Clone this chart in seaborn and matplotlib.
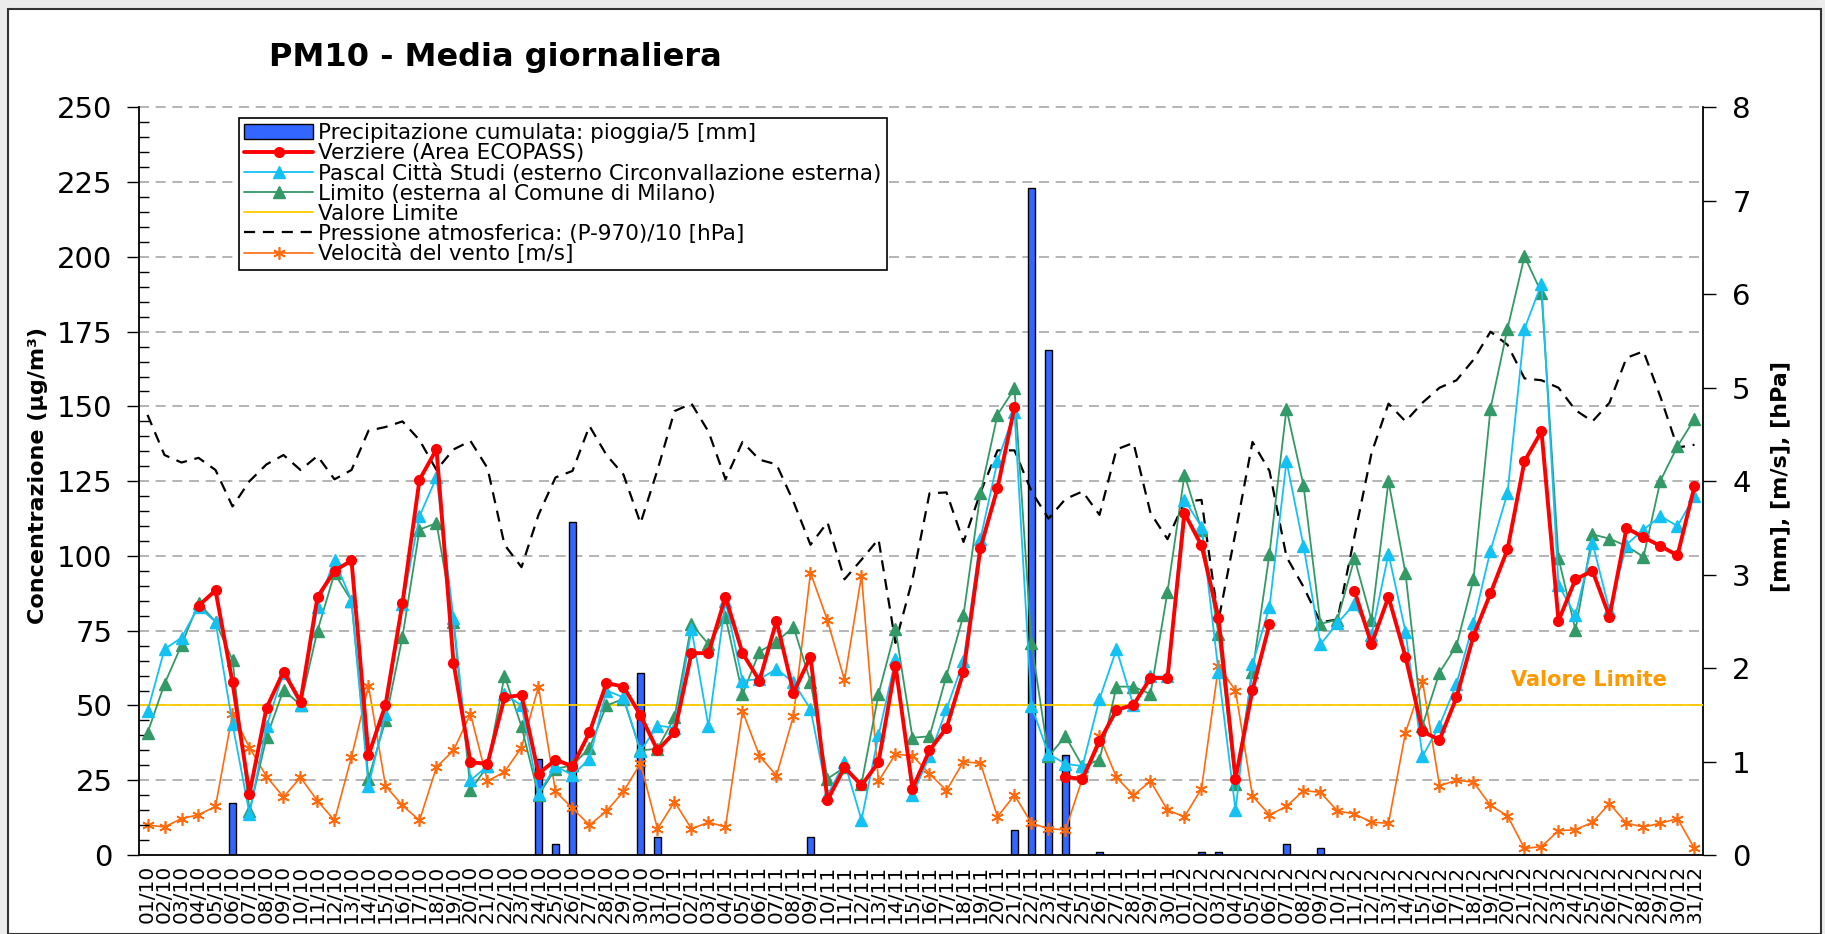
import numpy as np
import pandas as pd
import seaborn as sns
import matplotlib.pyplot as plt
from matplotlib.patches import Rectangle, Patch
from matplotlib.ticker import MultipleLocator, FixedLocator
from matplotlib.transforms import blended_transform_factory

nan = np.nan

# giorni dal 01/10 al 31/12
giorni = pd.date_range('2008-10-01', '2008-12-31').strftime('%d/%m').tolist()

# PM10 [ug/m3]
verziere = [nan, nan, nan, 83.3, 88.5, 57.7, 20.5, 49.2, 61.3, 51.3,
            86.3, 95.0, 98.5, 33.3, 50.2, 84.3, 125.5, 135.7, 64.3, 31.0,
            30.5, 52.7, 53.5, 27.2, 31.8, 29.7, 41.0, 57.5, 56.3, 46.7,
            35.0, 41.0, 67.5, 67.5, 86.3, 67.5, 58.3, 78.3, 54.3, 66.3,
            18.3, 29.3, 23.3, 31.0, 63.3, 22.2, 35.0, 42.5, 61.3, 102.7,
            122.7, 149.7, nan, nan, 26.0, 25.5, 38.0, 48.5, 50.2, 59.2,
            59.2, 114.3, 103.5, 79.3, 25.5, 55.2, 77.2, nan, nan, nan,
            nan, 88.3, 70.5, 86.3, 66.3, 41.3, 38.5, 52.7, 73.3, 87.5,
            102.2, 131.7, 141.7, 78.3, 92.2, 95.0, 79.7, 109.3, 106.3, 103.3,
            100.2, 123.3]
pascal = [48.0, 68.8, 72.7, 83.0, 78.0, 43.8, 13.8, 43.0, 61.0, 50.2,
          83.0, 98.8, 85.0, 23.0, 47.2, 83.8, 113.3, 126.3, 79.2, 25.0,
          29.7, 53.8, 50.0, 20.5, 29.7, 26.7, 32.2, 55.0, 52.7, 34.7,
          43.3, 42.5, 75.5, 43.0, 85.0, 58.3, 58.8, 62.2, 57.7, 48.8,
          20.0, 31.0, 11.7, 40.0, 65.5, 20.0, 33.0, 48.8, 64.8, 105.8,
          131.7, 148.0, 49.7, 33.8, 30.5, 29.7, 52.2, 68.8, 50.0, 59.7,
          59.7, 118.8, 109.7, 61.3, 15.0, 63.8, 83.0, 131.7, 103.3, 70.5,
          77.5, 84.0, 73.5, 100.7, 74.7, 33.0, 43.3, 57.2, 77.7, 101.8,
          121.0, 176.0, 191.0, 90.2, 80.2, 104.3, 81.8, 103.8, 108.8, 113.3,
          110.0, 120.0]
limito = [40.8, 57.2, 70.2, 84.3, 78.0, 65.2, 14.7, 39.3, 55.2, 50.2,
          75.0, 94.2, 85.0, 25.5, 45.0, 73.0, 108.8, 111.0, 78.0, 21.7,
          29.7, 60.0, 43.0, 20.0, 28.8, 30.0, 35.8, 50.0, 52.2, 35.0,
          35.5, 46.0, 77.2, 70.5, 79.7, 53.8, 68.0, 71.3, 76.3, 58.0,
          25.5, 29.3, 23.8, 53.8, 75.5, 39.2, 39.7, 60.0, 80.2, 121.0,
          147.2, 156.0, 70.8, 33.0, 39.7, 29.7, 31.8, 56.3, 56.3, 53.8,
          88.0, 127.2, 108.8, 73.8, 23.8, 61.3, 100.8, 149.2, 123.6, 77.3,
          78.7, 99.2, 78.6, 125.0, 94.2, 43.3, 61.0, 70.0, 92.2, 149.3,
          176.0, 200.2, 188.0, 99.3, 75.2, 107.2, 105.8, 103.3, 99.7, 125.2,
          136.7, 145.8]
valore_limite = 50

# asse destro: pioggia/5 [mm], (P-970)/10 [hPa], vento [m/s]
pioggia = [0, 0, 0, 0, 0, 0.56, 0, 0, 0, 0,
           0, 0, 0, 0, 0, 0, 0, 0, 0, 0,
           0, 0, 0, 1.03, 0.12, 3.56, 0, 0, 0, 1.95,
           0.19, 0, 0, 0, 0, 0, 0, 0, 0, 0.19,
           0, 0, 0, 0, 0, 0, 0, 0, 0, 0,
           0, 0.27, 7.14, 5.40, 1.07, 0, 0.03, 0, 0, 0,
           0, 0, 0.03, 0.03, 0, 0, 0, 0.12, 0, 0.07,
           0, 0, 0, 0, 0, 0, 0, 0, 0, 0,
           0, 0, 0, 0, 0, 0, 0, 0, 0, 0,
           0, 0]
pressione = [4.71, 4.28, 4.20, 4.25, 4.12, 3.73, 4.00, 4.18, 4.28, 4.12,
             4.27, 4.02, 4.12, 4.54, 4.58, 4.64, 4.44, 4.12, 4.34, 4.43,
             4.14, 3.32, 3.08, 3.64, 4.04, 4.11, 4.59, 4.28, 4.07, 3.55,
             4.12, 4.75, 4.83, 4.53, 4.02, 4.42, 4.23, 4.18, 3.78, 3.32,
             3.56, 2.95, 3.16, 3.38, 2.27, 2.95, 3.87, 3.88, 3.35, 3.88,
             4.33, 4.33, 3.89, 3.60, 3.81, 3.89, 3.64, 4.34, 4.41, 3.66,
             3.38, 3.78, 3.80, 2.51, 3.45, 4.42, 4.11, 3.19, 2.87, 2.49,
             2.52, 3.41, 4.30, 4.83, 4.64, 4.84, 5.00, 5.08, 5.30, 5.60,
             5.46, 5.10, 5.08, 5.00, 4.76, 4.64, 4.84, 5.32, 5.39, 4.90,
             4.36, 4.39]
vento = [0.32, 0.30, 0.39, 0.43, 0.52, 1.51, 1.15, 0.84, 0.62, 0.83,
         0.58, 0.37, 1.05, 1.81, 0.74, 0.53, 0.37, 0.94, 1.12, 1.51,
         0.79, 0.89, 1.15, 1.80, 0.68, 0.50, 0.32, 0.47, 0.68, 0.98,
         0.28, 0.57, 0.28, 0.35, 0.30, 1.54, 1.06, 0.85, 1.49, 3.02,
         2.51, 1.87, 2.99, 0.79, 1.08, 1.06, 0.87, 0.69, 1.00, 0.98,
         0.41, 0.64, 0.34, 0.28, 0.27, 0.82, 1.27, 0.83, 0.64, 0.79,
         0.48, 0.41, 0.71, 2.02, 1.76, 0.63, 0.43, 0.52, 0.69, 0.67,
         0.47, 0.44, 0.35, 0.34, 1.31, 1.86, 0.74, 0.80, 0.78, 0.53,
         0.42, 0.07, 0.09, 0.26, 0.27, 0.35, 0.55, 0.34, 0.30, 0.34,
         0.39, 0.07]

x = np.arange(len(giorni))

sns.set_style('white')
plt.rcParams['font.family'] = ['DejaVu Sans']
plt.rcParams['text.color'] = 'black'
plt.rcParams['axes.labelcolor'] = 'black'
plt.rcParams['xtick.color'] = 'black'
plt.rcParams['ytick.color'] = 'black'

W, H = 1825, 934
fig = plt.figure(figsize=(W / 100, H / 100), dpi=100, facecolor='#ececec')
# cornice bianca del grafico
fig.add_artist(Rectangle((8 / W, 0), (1821 - 8) / W, (H - 9) / H, transform=fig.transFigure,
                         facecolor='white', edgecolor='#333333', lw=1.5, zorder=-10))

rect = [139 / W, (H - 855) / H, (1703 - 139) / W, (855 - 107.4) / H]
ax = fig.add_axes(rect)
ax2 = ax.twinx()
ax.set_zorder(ax2.get_zorder() + 1)
ax.patch.set_visible(False)
ax2.patch.set_visible(True)
ax2.patch.set_facecolor('white')

# griglia (dietro alle barre) alle quote dell'asse sinistro
ax.set_ylim(0, 250)
griglia = np.arange(25, 251, 25)
trans = blended_transform_factory(ax2.transAxes, ax.transData)
ax2.hlines(griglia, 0, 1, transform=trans, colors='#a8a8a8', lw=1.2,
           linestyles=(0, (6, 4)), zorder=1, clip_on=False)

# asse destro
sns.barplot(x=giorni, y=pioggia, ax=ax2, color='#3366ff', saturation=1, width=0.43,
            edgecolor='black', linewidth=1, errorbar=None, zorder=2)
l_press, = ax2.plot(x, pressione, color='black', lw=1.6, ls=(0, (5, 3.5)), zorder=3)
l_vento, = ax2.plot(x, vento, color='#ff6a0d', lw=1.2, marker=(6, 2, 0), ms=9, mew=1.2, zorder=4)
ax2.set_ylim(0, 8)

# asse sinistro
l_lim = ax.axhline(valore_limite, color='#ffcc00', lw=1.3, zorder=2)
l_lim_, = ax.plot(x, limito, color='#339966', lw=1.3, marker='^', ms=8, zorder=3)
l_pas, = ax.plot(x, pascal, color='#13c2f3', lw=1.3, marker='^', ms=8, zorder=4)
l_ver, = ax.plot(x, verziere, color='#ff0000', lw=2.8, marker='o', ms=7, zorder=5)
ax.text(84.8, 58.5, 'Valore Limite', color='#ff9900', fontsize=15, fontweight='bold',
        ha='center', va='center')

ax.set_xlim(-0.5, len(giorni) - 0.5)
ax.xaxis.set_major_locator(FixedLocator(x))
ax.set_xticklabels(giorni, rotation=90, fontsize=14.5)
ax.xaxis.set_minor_locator(FixedLocator(np.arange(-0.5, len(giorni), 1)))
ax.tick_params(axis='x', which='major', length=0, pad=7)
ax.tick_params(axis='x', which='minor', length=5, width=1, direction='out', color='black')

ax.yaxis.set_major_locator(MultipleLocator(25))
ax.yaxis.set_minor_locator(MultipleLocator(5))
ax.tick_params(axis='y', which='major', direction='out', length=9, width=1, labelsize=21, pad=10, color='black')
ax.tick_params(axis='y', which='minor', direction='in', length=7, width=1, color='black')
ax2.yaxis.set_major_locator(MultipleLocator(1))
ax2.tick_params(axis='y', which='major', direction='out', length=9, width=1, labelsize=21, pad=12, color='black')

for s in ['top', 'right']:
    ax.spines[s].set_visible(False)
for s in ['top', 'left', 'bottom']:
    ax2.spines[s].set_visible(False)
for sp in [ax.spines['left'], ax.spines['bottom'], ax2.spines['right']]:
    sp.set_color('black')
    sp.set_linewidth(1.3)

ax.set_xlabel('')
ax2.set_xlabel('')
ax.set_ylabel('Concentrazione (µg/m³)', fontsize=16, fontweight='bold')
ax.yaxis.set_label_coords(-0.058, 0.507)
ax2.set_ylabel('[mm], [m/s], [hPa]', fontsize=16, fontweight='bold')
ax2.yaxis.set_label_coords(1.0428, 0.506)

fig.text(269 / W, 1 - 66 / H, 'PM10 - Media giornaliera', fontsize=23, fontweight='bold',
         ha='left', va='baseline')

handles = [Patch(facecolor='#3366ff', edgecolor='black'), l_ver, l_pas, l_lim_, l_lim, l_press, l_vento]
labels = ['Precipitazione cumulata: pioggia/5 [mm]',
          'Verziere (Area ECOPASS)',
          'Pascal Città Studi (esterno Circonvallazione esterna)',
          'Limito (esterna al Comune di Milano)',
          'Valore Limite',
          'Pressione atmosferica: (P-970)/10 [hPa]',
          'Velocità del vento [m/s]']
leg = ax.legend(handles, labels, loc='upper left', bbox_to_anchor=(239 / W, 1 - 118 / H),
                bbox_transform=fig.transFigure, fontsize=15.5, frameon=True, fancybox=False,
                framealpha=1, edgecolor='black', borderpad=0.25, labelspacing=0.0,
                handlelength=3.2, handletextpad=0.22, borderaxespad=0)
leg.get_frame().set_linewidth(1.2)

fig.savefig('out.png', dpi=100, facecolor=fig.get_facecolor())
